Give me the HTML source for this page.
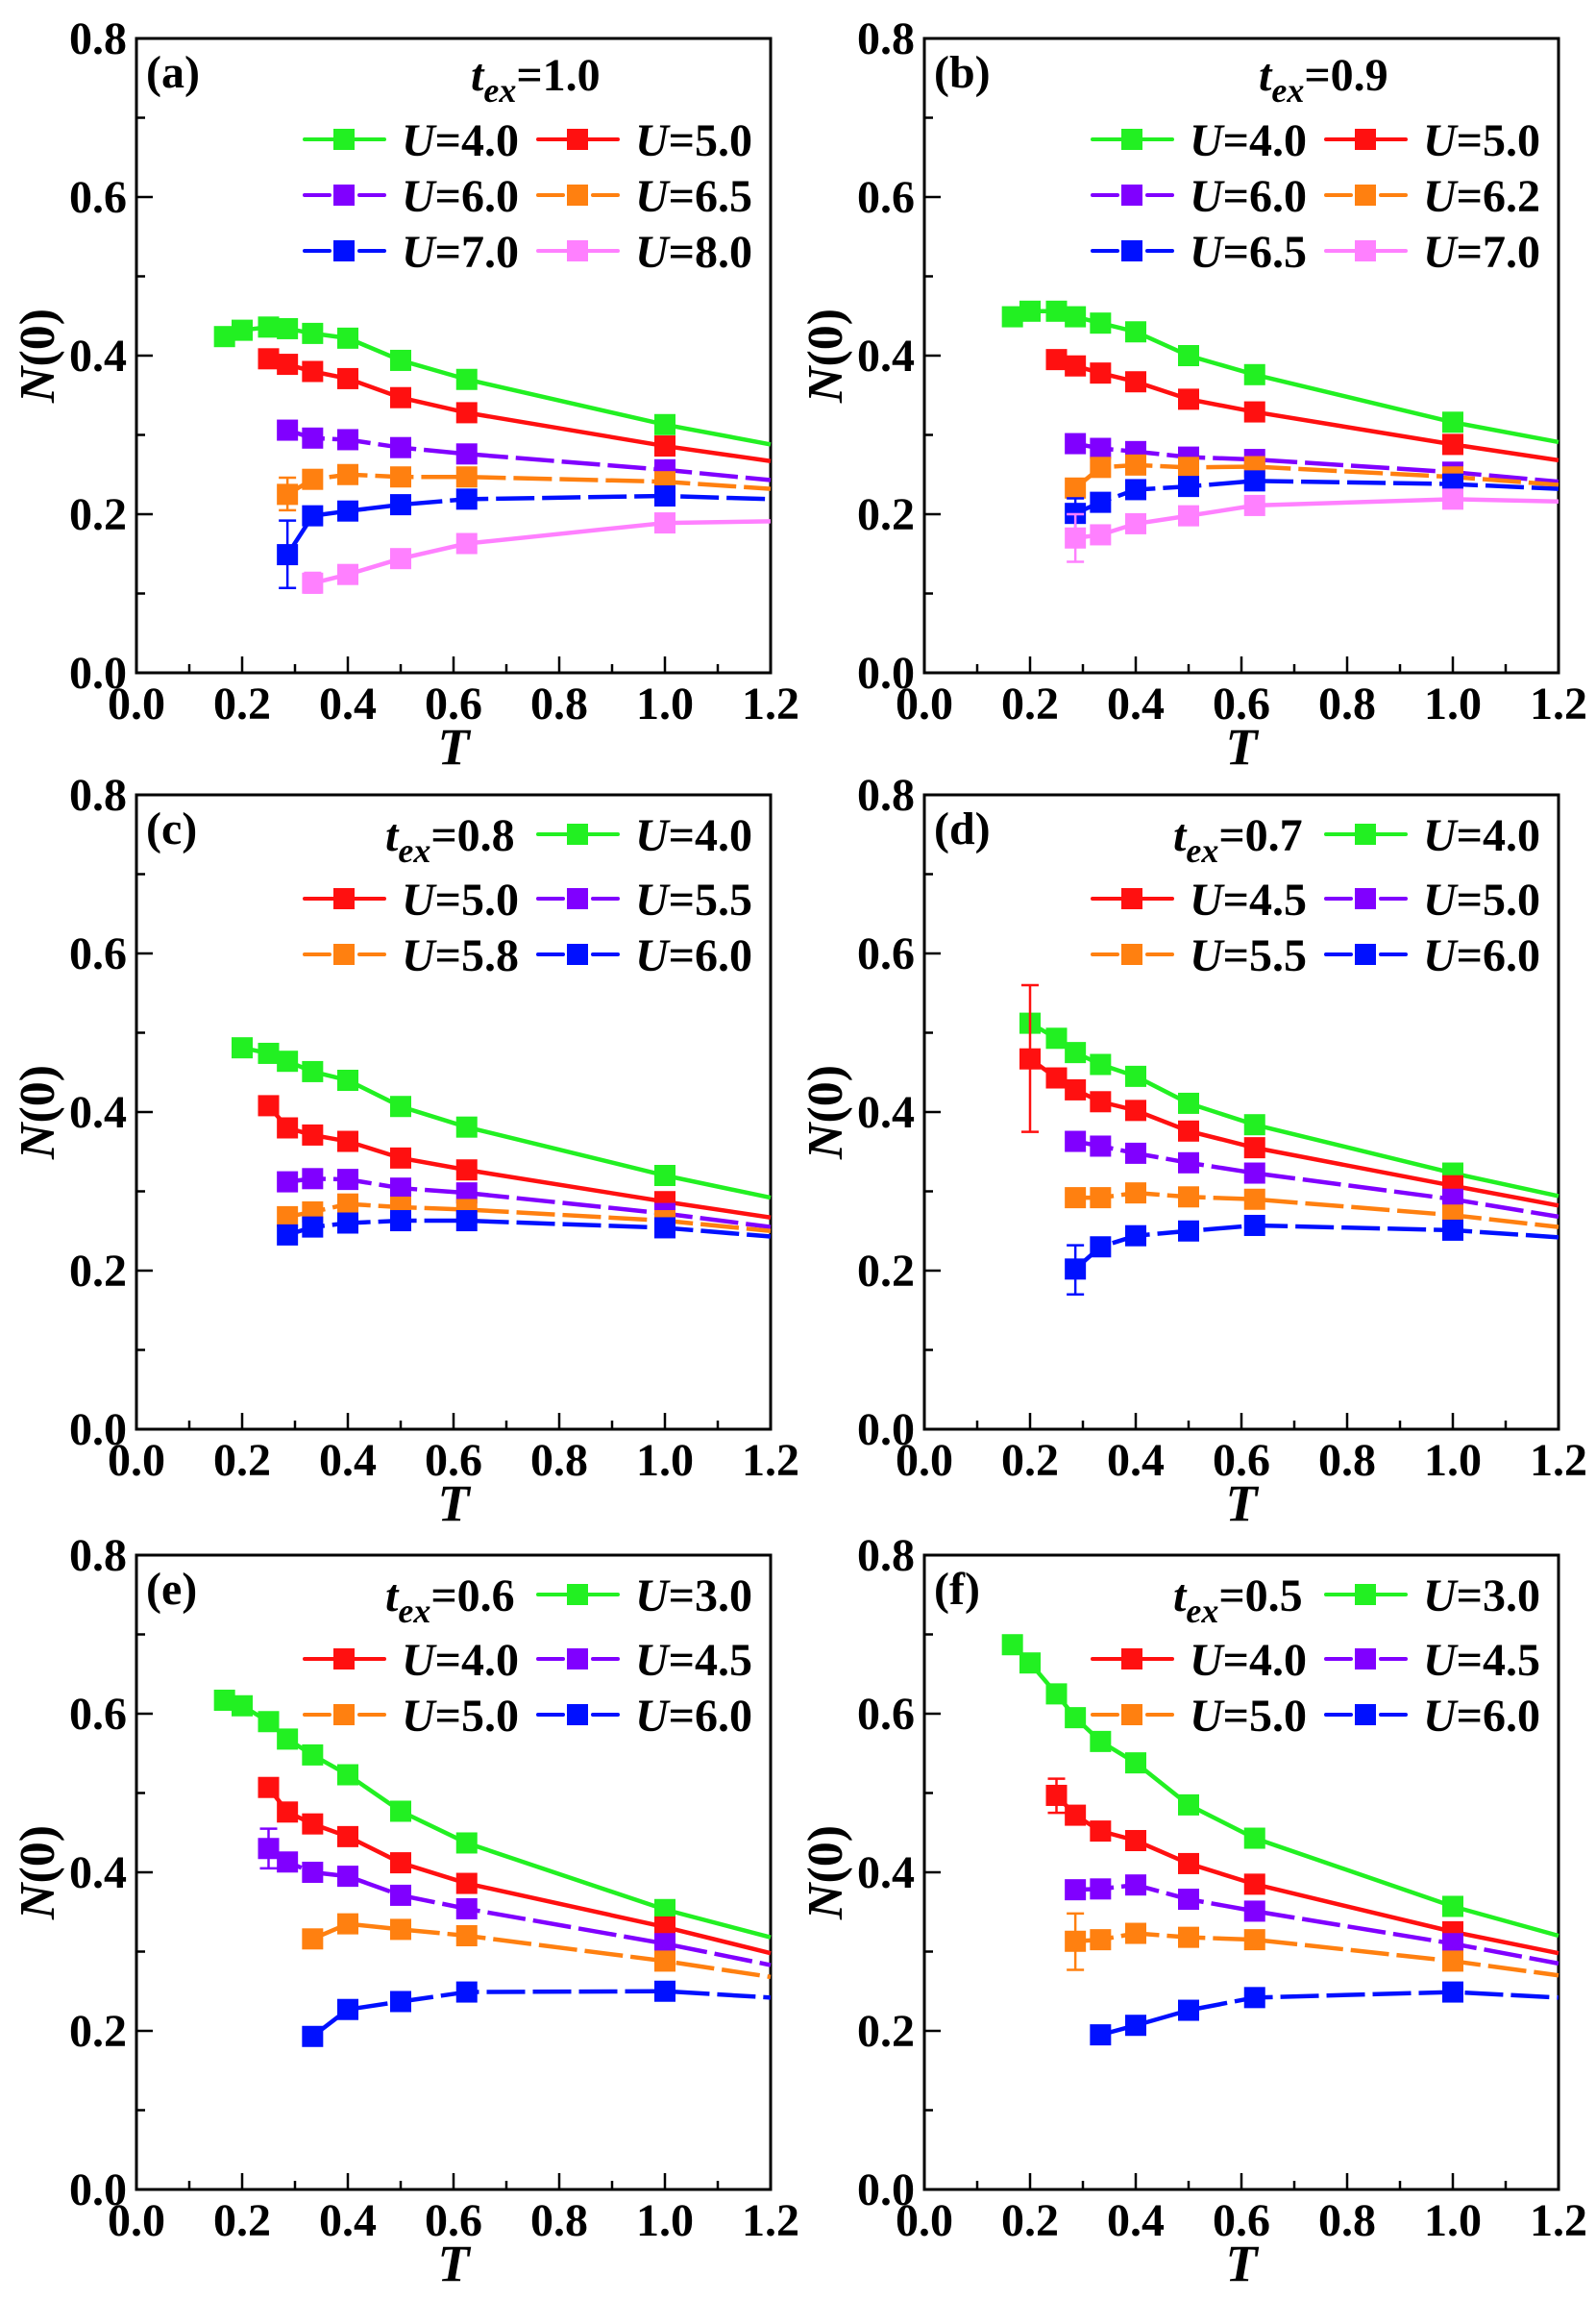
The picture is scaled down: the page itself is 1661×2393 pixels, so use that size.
<!DOCTYPE html>
<html><head><meta charset="utf-8"><style>
html,body{margin:0;padding:0;background:#fff;}
svg{display:block;}
svg text{font-family:"Liberation Serif","Times New Roman",serif !important;font-weight:bold;}
</style></head><body>
<svg id="s" width="1661" height="2393" xmlns="http://www.w3.org/2000/svg" font-family="Liberation Serif, serif"></svg>
<script>
const C={g:'#22f022',r:'#ff1010',p:'#8000ff',o:'#ff8010',b:'#0010ff',k:'#ff80ff'};
const Tx=[1/6,0.2,0.25,2/7,1/3,0.4,0.5,0.625,1.0,1.2];
function S(ts,vs){return ts.map((t,i)=>[t,vs[i]]);}
const panels=[
{x0:142,y0:40,lab:'(a)',tex:'1.0',two:true,series:[
 ['g','U=4.0',0,S(Tx,[.424,.432,.436,.434,.428,.422,.394,.37,.313,.288])],
 ['r','U=5.0',0,S(Tx.slice(2),[.396,.389,.38,.371,.347,.328,.286,.267])],
 ['p','U=6.0',1,S(Tx.slice(3),[.306,.296,.294,.284,.276,.256,.243])],
 ['o','U=6.5',1,S(Tx.slice(3),[.225,.244,.25,.247,.247,.241,.232]),[[2/7,.205,.246]]],
 ['b','U=7.0',1,S(Tx.slice(3),[.149,.198,.204,.212,.219,.223,.219]),[[2/7,.107,.192]]],
 ['k','U=8.0',0,S(Tx.slice(4),[.113,.124,.144,.163,.189,.191]),[[1/3,.101,.126]]]]},
{x0:962,y0:40,lab:'(b)',tex:'0.9',two:true,series:[
 ['g','U=4.0',0,S(Tx,[.449,.456,.456,.449,.441,.43,.4,.376,.316,.291])],
 ['r','U=5.0',0,S(Tx.slice(2),[.395,.387,.378,.367,.345,.329,.288,.268])],
 ['p','U=6.0',1,S(Tx.slice(3),[.289,.283,.279,.272,.269,.253,.241])],
 ['o','U=6.2',1,S(Tx.slice(3),[.233,.259,.262,.259,.260,.247,.237])],
 ['b','U=6.5',1,S(Tx.slice(3),[.201,.215,.231,.235,.242,.238,.232]),[[2/7,.18,.22]]],
 ['k','U=7.0',0,S(Tx.slice(3),[.17,.174,.188,.198,.211,.219,.216]),[[2/7,.14,.2]]]]},
{x0:142,y0:827,lab:'(c)',tex:'0.8',series:[
 ['g','U=4.0',0,S(Tx.slice(1),[.481,.474,.464,.451,.44,.407,.381,.32,.292])],
 ['r','U=5.0',0,S(Tx.slice(2),[.408,.38,.371,.363,.342,.327,.287,.267])],
 ['p','U=5.5',1,S(Tx.slice(3),[.312,.316,.315,.304,.298,.272,.255])],
 ['o','U=5.8',1,S(Tx.slice(3),[.268,.274,.284,.28,.277,.263,.25])],
 ['b','U=6.0',1,S(Tx.slice(3),[.245,.255,.26,.263,.263,.254,.243])]]},
{x0:962,y0:827,lab:'(d)',tex:'0.7',series:[
 ['g','U=4.0',0,S(Tx.slice(1),[.512,.493,.475,.46,.445,.411,.384,.323,.294])],
 ['r','U=4.5',0,S(Tx.slice(1),[.467,.443,.428,.413,.402,.376,.355,.307,.282]),[[0.2,.375,.56]]],
 ['p','U=5.0',1,S(Tx.slice(3),[.363,.357,.348,.336,.323,.29,.268])],
 ['o','U=5.5',1,S(Tx.slice(3),[.292,.292,.298,.293,.29,.27,.255])],
 ['b','U=6.0',1,S(Tx.slice(3),[.202,.23,.244,.25,.257,.251,.242]),[[2/7,.17,.232]]]]},
{x0:142,y0:1618,lab:'(e)',tex:'0.6',series:[
 ['g','U=3.0',0,S(Tx,[.617,.61,.59,.568,.548,.523,.477,.437,.353,.318])],
 ['r','U=4.0',0,S(Tx.slice(2),[.507,.476,.461,.445,.412,.386,.331,.298])],
 ['p','U=4.5',1,S(Tx.slice(2),[.43,.413,.4,.395,.371,.354,.31,.283]),[[0.25,.405,.455]]],
 ['o','U=5.0',1,S(Tx.slice(4),[.316,.335,.328,.32,.288,.268])],
 ['b','U=6.0',1,S(Tx.slice(4),[.193,.227,.237,.249,.25,.242])]]},
{x0:962,y0:1618,lab:'(f)',tex:'0.5',series:[
 ['g','U=3.0',0,S(Tx,[.687,.664,.625,.595,.565,.538,.485,.443,.357,.32])],
 ['r','U=4.0',0,S(Tx.slice(2),[.497,.472,.452,.44,.411,.385,.325,.298]),[[0.25,.475,.518]]],
 ['p','U=4.5',1,S(Tx.slice(3),[.378,.379,.384,.366,.351,.31,.285])],
 ['o','U=5.0',1,S(Tx.slice(3),[.313,.315,.323,.318,.315,.288,.27]),[[2/7,.277,.348]]],
 ['b','U=6.0',1,S(Tx.slice(4),[.195,.207,.226,.242,.249,.242])]]}
];
const W=660,H=660;let o='';
const DASH='40 8';
const FF='font-family="Liberation Serif, serif" font-weight="bold"';
function mk(x,y,c){return `<rect x="${x-11}" y="${y-11}" width="22" height="22" fill="${c}"/>`;}
function legItem(x,y,s){const c=C[s[0]];let r=`<line x1="${x}" y1="${y}" x2="${x+83}" y2="${y}" stroke="${c}" stroke-width="4" stroke-linecap="round"/>`;
 if(s[2]) r=`<line x1="${x}" y1="${y}" x2="${x+26}" y2="${y}" stroke="${c}" stroke-width="4" stroke-linecap="round"/><line x1="${x+57}" y1="${y}" x2="${x+83}" y2="${y}" stroke="${c}" stroke-width="4" stroke-linecap="round"/>`;
 r+=mk(x+41,y,c);
 r+=`<text ${FF} x="${x+101}" y="${y+17}" font-size="48" font-style="italic">U<tspan font-style="normal">${s[1].slice(1)}</tspan></text>`;return r;}
panels.forEach(P=>{
 const X=t=>P.x0+t/1.2*W, Y=v=>P.y0+H-v/0.8*H;
 for(let i=0;i<=12;i++){const x=P.x0+i*W/12;const L=i%2?9:17;o+=`<line x1="${x}" y1="${P.y0+H}" x2="${x}" y2="${P.y0+H-L}" stroke="#000" stroke-width="2.5"/>`;
  if(i%2==0)o+=`<text ${FF} x="${x}" y="${P.y0+H+48}" font-size="48" text-anchor="middle">${(i/10).toFixed(1)}</text>`;}
 for(let i=0;i<=8;i++){const y=P.y0+H-i*H/8;const L=i%2?9:17;o+=`<line x1="${P.x0}" y1="${y}" x2="${P.x0+L}" y2="${y}" stroke="#000" stroke-width="2.5"/>`;
  if(i%2==0)o+=`<text ${FF} x="${P.x0-10}" y="${y+16}" font-size="48" text-anchor="end">${(i/10).toFixed(1)}</text>`;}
 o+=`<rect x="${P.x0}" y="${P.y0}" width="${W}" height="${H}" fill="none" stroke="#000" stroke-width="3"/>`;
 o+=`<text ${FF} x="${P.x0+W/2}" y="${P.y0+H+95}" font-size="54" font-style="italic" text-anchor="middle">T</text>`;
 const cx=P.x0-104,cy=P.y0+H/2;
 o+=`<text ${FF} x="${cx}" y="${cy}" font-size="52" text-anchor="middle" transform="rotate(-90 ${cx} ${cy})" dy="18"><tspan font-style="italic">N</tspan>(0)</text>`;
 o+=`<text ${FF} x="${P.x0+10}" y="${P.y0+51}" font-size="48">${P.lab}</text>`;
 P.series.forEach(s=>{const c=C[s[0]];const pts=s[3].map(p=>X(p[0])+','+Y(p[1])).join(' ');
  o+=`<polyline points="${pts}" fill="none" stroke="${c}" stroke-width="4.5" ${s[2]?'stroke-dasharray="'+DASH+'"':''}/>`;
  (s[4]||[]).forEach(e=>{const x=X(e[0]);o+=`<g stroke="${c}" stroke-width="2.5"><line x1="${x}" y1="${Y(e[1])}" x2="${x}" y2="${Y(e[2])}"/><line x1="${x-9}" y1="${Y(e[1])}" x2="${x+9}" y2="${Y(e[1])}"/><line x1="${x-9}" y1="${Y(e[2])}" x2="${x+9}" y2="${Y(e[2])}"/></g>`;});
  s[3].forEach(p=>{if(p[0]<1.1)o+=mk(X(p[0]),Y(p[1]),c);});
 });
 const tex=(x,y)=>`<text ${FF} x="${x}" y="${y}" font-size="48"><tspan font-style="italic">t</tspan><tspan font-style="italic" font-size="36" dy="12">ex</tspan><tspan dy="-12">=${P.tex}</tspan></text>`;
 const c1=P.x0+175,c2=P.x0+418;
 if(P.two){o+=tex(P.x0+348,P.y0+54);
  const rows=[105,163,221];
  for(let r=0;r<3;r++){o+=legItem(c1,P.y0+rows[r],P.series[2*r]);o+=legItem(c2,P.y0+rows[r],P.series[2*r+1]);}
 } else {o+=tex(P.x0+259,P.y0+58);
  const rows=[41,108,166];
  o+=legItem(c2,P.y0+rows[0],P.series[0]);
  o+=legItem(c1,P.y0+rows[1],P.series[1]);o+=legItem(c2,P.y0+rows[1],P.series[2]);
  o+=legItem(c1,P.y0+rows[2],P.series[3]);o+=legItem(c2,P.y0+rows[2],P.series[4]);}
});
document.getElementById('s').innerHTML=o;
</script>
</body></html>
